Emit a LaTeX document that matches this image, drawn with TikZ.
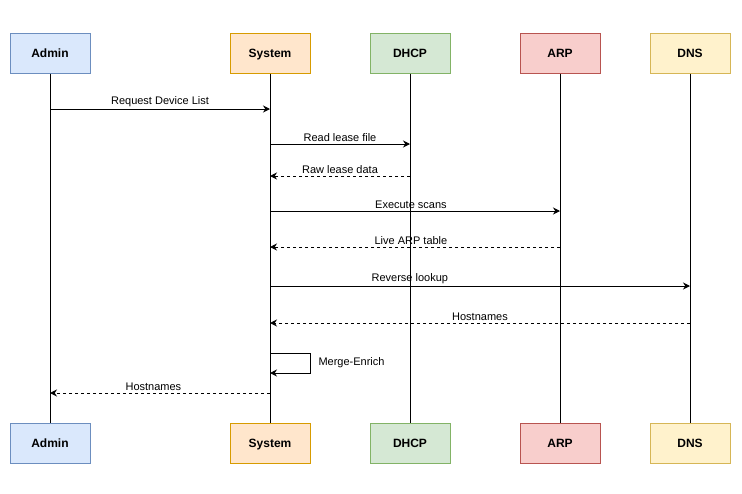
\documentclass[tikz,border=0pt]{standalone}
\usepackage{fontspec}
\setmainfont{Liberation Sans}
\usetikzlibrary{arrows.meta}
\definecolor{bluefill}{HTML}{DAE8FC}\definecolor{blueline}{HTML}{6C8EBF}
\definecolor{orangefill}{HTML}{FFE6CC}\definecolor{orangeline}{HTML}{D79B00}
\definecolor{greenfill}{HTML}{D5E8D4}\definecolor{greenline}{HTML}{82B366}
\definecolor{redfill}{HTML}{F8CECC}\definecolor{redline}{HTML}{B85450}
\definecolor{yellowfill}{HTML}{FFF2CC}\definecolor{yellowline}{HTML}{D6B656}
\begin{document}
\begin{tikzpicture}[x=1pt,y=-1pt,line width=1pt,
  actor/.style={draw,minimum width=80pt,minimum height=40pt,text height=9pt,text depth=0pt,
    font=\fontsize{12}{14}\bfseries\selectfont},
  msg/.style={-{Stealth[length=7pt,width=7pt]}},
  reply/.style={msg,dash pattern=on 3pt off 3pt},
  lbl/.style={above=1pt,inner sep=1pt,font=\fontsize{11}{13}\selectfont}]
\useasboundingbox (0,0) rectangle (742,493);
\foreach \n/\t/\x/\col in {admin/Admin/50/blue,sys/System/270/orange,dhcp/DHCP/410/green,arp/ARP/560/red,dns/DNS/690/yellow}{
  \node[actor,draw=\col line,fill=\col fill] (\n) at (\x,53) {\t};
  \node[actor,draw=\col line,fill=\col fill] (\n2) at (\x,443) {\t};
  \draw (\n) -- (\n2);}
% messages
\foreach \a/\b/\y/\s/\p/\t in {admin/sys/109/msg/0.5/Request Device List,sys/dhcp/144/msg/0.5/Read lease file,
  dhcp/sys/176/reply/0.5/Raw lease data,sys/arp/211/msg/0.486/Execute scans,arp/sys/247/reply/0.514/Live ARP table,
  sys/dns/286/msg/0.333/Reverse lookup,dns/sys/323/reply/0.5/Hostnames,sys/admin/393/reply/0.53/Hostnames}{
  \coordinate (m\y) at (0,\y);
  \draw[\s] (\a |- m\y) -- node[lbl,pos=\p]{\t} (\b |- m\y);}
% self call
\coordinate (l1) at (0,353);\coordinate (l2) at (0,373);
\draw[msg] (sys |- l1) -- ++(40,0) |- node[pos=0.25,right=8pt,inner sep=0pt,font=\fontsize{11}{13}\selectfont]{Merge-Enrich} (sys |- l2);
\end{tikzpicture}
\end{document}
